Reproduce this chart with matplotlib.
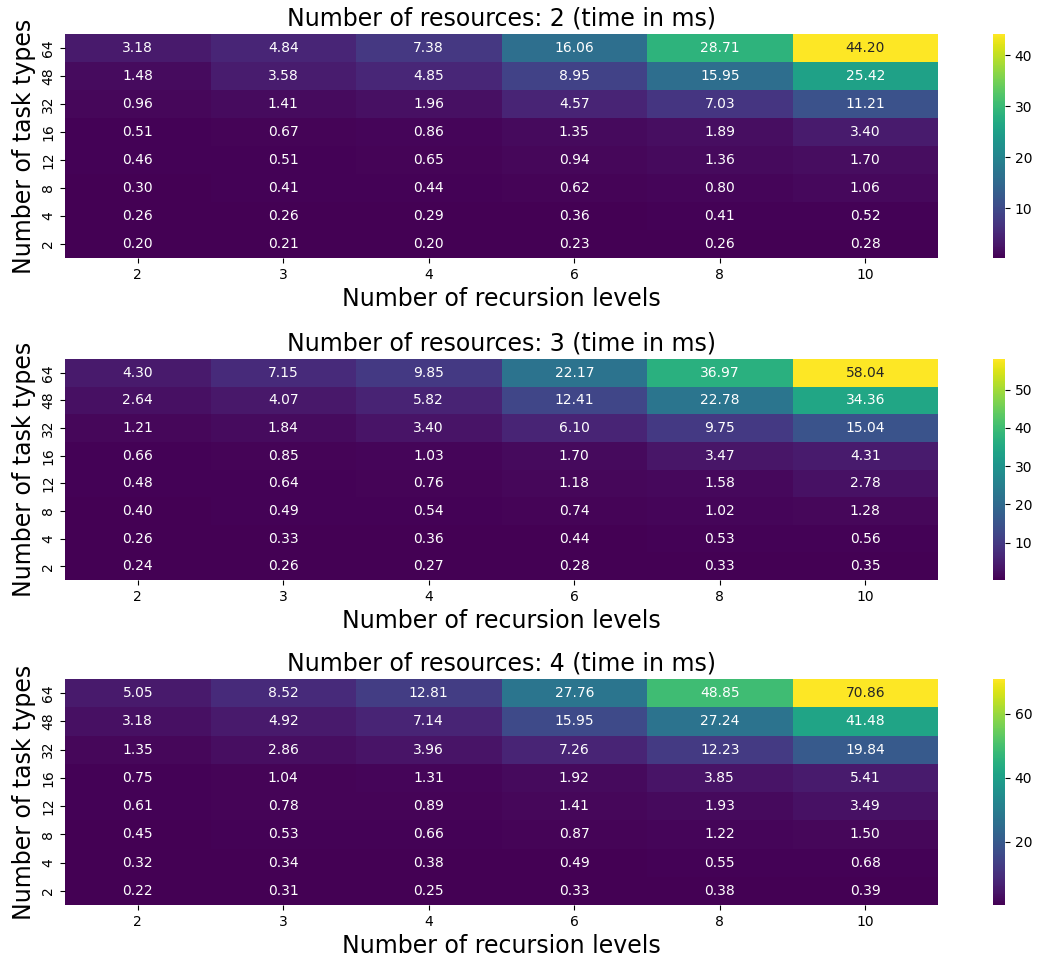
import numpy as np
import matplotlib
matplotlib.use("Agg")
import matplotlib.pyplot as plt
from matplotlib.ticker import MultipleLocator
import seaborn as sns

# recursion levels (columns) and task types (rows, top to bottom)
recursion_levels = [2, 3, 4, 6, 8, 10]
task_types = [64, 48, 32, 16, 12, 8, 4, 2]
resources = [2, 3, 4]

# time in ms, rows follow task_types
times_r2 = [
    [3.18, 4.84, 7.38, 16.06, 28.71, 44.20],
    [1.48, 3.58, 4.85, 8.95, 15.95, 25.42],
    [0.96, 1.41, 1.96, 4.57, 7.03, 11.21],
    [0.51, 0.67, 0.86, 1.35, 1.89, 3.40],
    [0.46, 0.51, 0.65, 0.94, 1.36, 1.70],
    [0.30, 0.41, 0.44, 0.62, 0.80, 1.06],
    [0.26, 0.26, 0.29, 0.36, 0.41, 0.52],
    [0.20, 0.21, 0.20, 0.23, 0.26, 0.28],
]
times_r3 = [
    [4.30, 7.15, 9.85, 22.17, 36.97, 58.04],
    [2.64, 4.07, 5.82, 12.41, 22.78, 34.36],
    [1.21, 1.84, 3.40, 6.10, 9.75, 15.04],
    [0.66, 0.85, 1.03, 1.70, 3.47, 4.31],
    [0.48, 0.64, 0.76, 1.18, 1.58, 2.78],
    [0.40, 0.49, 0.54, 0.74, 1.02, 1.28],
    [0.26, 0.33, 0.36, 0.44, 0.53, 0.56],
    [0.24, 0.26, 0.27, 0.28, 0.33, 0.35],
]
times_r4 = [
    [5.05, 8.52, 12.81, 27.76, 48.85, 70.86],
    [3.18, 4.92, 7.14, 15.95, 27.24, 41.48],
    [1.35, 2.86, 3.96, 7.26, 12.23, 19.84],
    [0.75, 1.04, 1.31, 1.92, 3.85, 5.41],
    [0.61, 0.78, 0.89, 1.41, 1.93, 3.49],
    [0.45, 0.53, 0.66, 0.87, 1.22, 1.50],
    [0.32, 0.34, 0.38, 0.49, 0.55, 0.68],
    [0.22, 0.31, 0.25, 0.33, 0.38, 0.39],
]
all_times = [times_r2, times_r3, times_r4]
cbar_steps = [10, 10, 20]

W, H = 1039, 963
fig = plt.figure(figsize=(W / 100, H / 100), dpi=100)

# pixel boxes (top, bottom) of each heatmap
boxes = [(34, 258), (359, 580), (679, 905)]
left, right = 65, 938
cb_left, cb_right = 993, 1005

for r, data, step, (top, bottom) in zip(resources, all_times, cbar_steps, boxes):
    ax = fig.add_axes([left / W, 1 - bottom / H, (right - left) / W, (bottom - top) / H])
    cax = fig.add_axes([cb_left / W, 1 - bottom / H, (cb_right - cb_left) / W, (bottom - top) / H])
    sns.heatmap(np.array(data), ax=ax, cbar_ax=cax, cmap="viridis", annot=True, fmt=".2f",
                annot_kws={"fontsize": 10},
                xticklabels=recursion_levels, yticklabels=task_types)
    ax.set_title(f"Number of resources: {r} (time in ms)", fontsize=17)
    ax.set_xlabel("Number of recursion levels", fontsize=17)
    ax.set_ylabel("Number of task types", fontsize=17)
    ax.tick_params(labelsize=10)
    plt.setp(ax.get_yticklabels(), rotation=90, va="center")
    plt.setp(ax.get_xticklabels(), rotation=0)
    cax.yaxis.set_major_locator(MultipleLocator(step))
    cax.tick_params(labelsize=10)

fig.savefig("out.png", dpi=100)
